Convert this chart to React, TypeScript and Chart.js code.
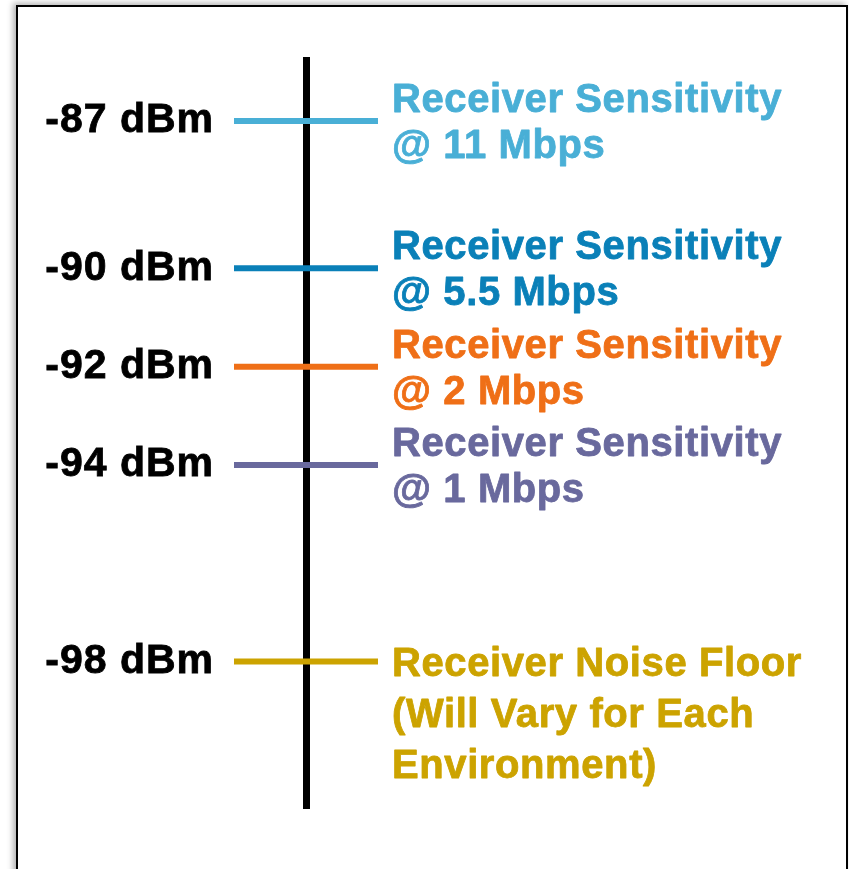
import React, { useEffect, useRef } from "react";
import { Chart, registerables } from "chart.js";

Chart.register(...registerables);

// Signal levels (dBm) shown on the scale, top to bottom
const LEVELS = [-87, -90, -92, -94, -98];
const LEVEL_LABELS = ["-87 dBm", "-90 dBm", "-92 dBm", "-94 dBm", "-98 dBm"];
const DESCRIPTIONS = [
  ["Receiver Sensitivity", "@ 11 Mbps"],
  ["Receiver Sensitivity", "@ 5.5 Mbps"],
  ["Receiver Sensitivity", "@ 2 Mbps"],
  ["Receiver Sensitivity", "@ 1 Mbps"],
  ["Receiver Noise Floor", "(Will Vary for Each", "Environment)"],
];
const COLORS = ["#49AFD6", "#0A80B8", "#EF6F17", "#69699D", "#CCA300"];
const Y_MIN = -101.0;
const Y_MAX = -85.7;

const FONT_FAMILY = '"Liberation Sans", Arial, sans-serif';

const spacingPlugin = {
  id: "tickSpacing",
  beforeDraw(chart: any) {
    (chart.ctx as any).letterSpacing = "1px";
  },
  afterDraw(chart: any) {
    (chart.ctx as any).letterSpacing = "0px";
  },
};

const descPlugin = {
  id: "descLabels",
  afterDatasetsDraw(chart: any) {
    const { ctx, chartArea, scales } = chart;
    ctx.save();
    ctx.font = `bold 40px ${FONT_FAMILY}`;
    (ctx as any).letterSpacing = "0.6px";
    ctx.textAlign = "left";
    ctx.textBaseline = "alphabetic";
    ctx.lineWidth = 0.8;
    ctx.lineJoin = "round";
    const x = chartArea.right + 14;
    LEVELS.forEach((lvl, i) => {
      const y = scales.y.getPixelForValue(lvl);
      const lines = DESCRIPTIONS[i];
      const top = lines.length > 2;
      const lh = top ? 51 : 46;
      const first = top ? y + 14 : y - ((lines.length - 1) * lh) / 2 + 14;
      ctx.fillStyle = COLORS[i];
      ctx.strokeStyle = COLORS[i];
      lines.forEach((t, j) => {
        ctx.fillText(t, x, first + j * lh);
        ctx.strokeText(t, x, first + j * lh);
      });
    });
    ctx.restore();
  },
};

export default function App() {
  const ref = useRef<HTMLCanvasElement | null>(null);

  useEffect(() => {
    document.body.style.margin = "0";
    if (!ref.current) return;
    const chart = new Chart(ref.current, {
      type: "line",
      data: {
        datasets: LEVELS.map((lvl, i) => ({
          label: LEVEL_LABELS[i],
          data: [
            { x: -1, y: lvl },
            { x: 1, y: lvl },
          ],
          borderColor: COLORS[i],
          backgroundColor: COLORS[i],
          borderWidth: 6,
          pointRadius: 0,
          borderCapStyle: "butt",
        })),
      },
      options: {
        animation: false,
        responsive: false,
        events: [],
        layout: { padding: { left: 0, right: 849 - 378, top: 57, bottom: 869 - 809 } },
        plugins: { legend: { display: false }, tooltip: { enabled: false }, title: { display: false } },
        scales: {
          x: {
            type: "linear",
            min: -1,
            max: 1,
            afterBuildTicks: (s: any) => {
              s.ticks = [{ value: 0 }];
            },
            afterFit: (s: any) => {
              s.height = 0;
            },
            ticks: { display: false },
            grid: { color: "#000", lineWidth: 7, drawTicks: false },
            border: { display: false },
          },
          y: {
            type: "linear",
            min: Y_MIN,
            max: Y_MAX,
            afterBuildTicks: (s: any) => {
              s.ticks = LEVELS.map((v) => ({ value: v }));
            },
            afterFit: (s: any) => {
              s.width = 234;
            },
            ticks: {
              padding: 12,
              color: "#000",
              textStrokeColor: "#000",
              textStrokeWidth: 0.8,
              font: { family: FONT_FAMILY, size: 41, weight: "bold" },
              callback: (v: any) => {
                const i = LEVELS.indexOf(Number(v));
                return i >= 0 ? LEVEL_LABELS[i] : "";
              },
            },
            grid: { display: false },
            border: { display: false },
          },
        },
      },
      plugins: [spacingPlugin, descPlugin],
    } as any);
    return () => chart.destroy();
  }, []);

  return (
    <div style={{ position: "fixed", inset: 0, background: "#fff", overflow: "hidden" }}>
      <div
        style={{
          position: "absolute",
          left: 16,
          top: 5,
          width: 832,
          height: 900,
          boxSizing: "border-box",
          border: "2px solid #000",
          boxShadow: "-3px -2px 6px rgba(0,0,0,0.3)",
          background: "#fff",
        }}
      />
      <canvas ref={ref} width={849} height={869} style={{ position: "absolute", left: 0, top: 0 }} />
    </div>
  );
}
